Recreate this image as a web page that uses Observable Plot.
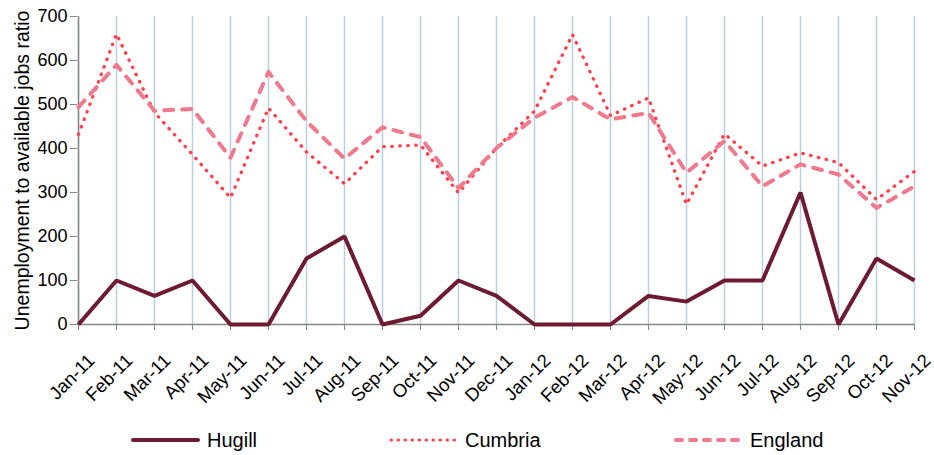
<!DOCTYPE html>
<html><head><meta charset="utf-8">
<script src="https://cdn.jsdelivr.net/npm/d3@7"></script>
<script src="https://cdn.jsdelivr.net/npm/@observablehq/plot@0.6"></script>
<style>
body{margin:0;background:#fff;font-family:"Liberation Sans",Arial,sans-serif;}
#wrap{width:934px;height:455px;position:relative;overflow:hidden;background:#fff}
.leg{position:absolute;top:425px;height:30px;display:flex;align-items:center;font-size:20px;color:#000;white-space:nowrap}
.leg svg{margin-right:6px}
</style></head><body>
<div id="wrap"><div id="chart"></div><div id="legend"></div></div>
<script>
const months = ["Jan-11","Feb-11","Mar-11","Apr-11","May-11","Jun-11","Jul-11","Aug-11","Sep-11","Oct-11","Nov-11","Dec-11","Jan-12","Feb-12","Mar-12","Apr-12","May-12","Jun-12","Jul-12","Aug-12","Sep-12","Oct-12","Nov-12"];
const hugill  = [0,100,65,100,0,0,150,200,0,20,100,65,0,0,0,65,52,100,100,300,0,150,100];
const cumbria = [432,660,482,386,288,492,392,320,404,408,299,401,485,659,475,515,273,433,360,390,368,284,348];
const england = [494,590,486,490,379,574,462,377,448,426,310,401,470,517,466,481,345,417,314,364,341,265,314];
const yTicks = [0,100,200,300,400,500,600,700];
const yTitle = ["Unemployment to available jobs ratio"];
const seriesNames = ["Hugill","Cumbria","England"];
const seriesColors = ["#6e1a31","#ff3f4b","#ef7a8e"];
const seriesWidths = [4,3.3,4];
const seriesDash = [null,"0.5 7.5","9 9"];
const seriesValues = [hugill,cumbria,england];

const data = seriesNames.flatMap((s,k)=>months.map((m,i)=>({month:m,value:seriesValues[k][i],series:s})));

const lineMarks = seriesNames.map((s,k)=>Plot.lineY(data.filter(d=>d.series===s),{
  x:"month", y:"value", stroke:seriesColors[k], strokeWidth:seriesWidths[k],
  strokeDasharray:seriesDash[k]||undefined,
  strokeLinecap: k===0 ? "butt" : "round",
  strokeLinejoin: k===0 ? "miter" : "round"
}));

const plot = Plot.plot({
  width:934, height:415,
  marginLeft:77, marginRight:19, marginTop:16, marginBottom:91,
  style:{fontFamily:"Liberation Sans, Arial, sans-serif", fontSize:"19px", color:"#000", background:"#fff"},
  x:{type:"point", domain:months, padding:0},
  y:{domain:[0,700]},
  marks:[
    Plot.gridX(months,{stroke:"#b9cde5", strokeOpacity:1, strokeWidth:1.5}),
    Plot.ruleX([months[0]],{stroke:"#868686", strokeWidth:1.5}),
    Plot.ruleY([0],{stroke:"#868686", strokeWidth:1.5}),
    Plot.axisY({ticks:yTicks, tickSize:7, tickPadding:3, stroke:"#868686", strokeOpacity:1, fontSize:18, label:null}),
    Plot.text(yTitle,{frameAnchor:"left", textAnchor:"middle", lineAnchor:"middle", rotate:-90, dx:-55, fontSize:19.5, fill:"#000"}),
    Plot.axisX({tickSize:6, tickFormat:()=>"", stroke:"#868686", strokeOpacity:1, label:null}),
    Plot.axisX({tickSize:0, tickRotate:-45, tickPadding:33, dx:13, fontSize:18.5, label:null}),
    ...lineMarks
  ]
});
document.getElementById("chart").appendChild(plot);

const legendLeft = [130,388,673];
const leg = document.getElementById("legend");
seriesNames.forEach((s,k)=>{
  const div = document.createElement("div");
  div.className="leg";
  div.style.left = legendLeft[k]+"px";
  const dash = seriesDash[k] ? (k===1 ? "0.5 6.5" : "6 8") : "";
  div.innerHTML = `<svg width="71" height="10"><line x1="3" y1="5" x2="68" y2="5" stroke="${seriesColors[k]}" stroke-width="${k===1?3:4}" stroke-linecap="round" ${dash?`stroke-dasharray="${dash}"`:""}/></svg><span>${s}</span>`;
  leg.appendChild(div);
});
</script>
</body></html>
